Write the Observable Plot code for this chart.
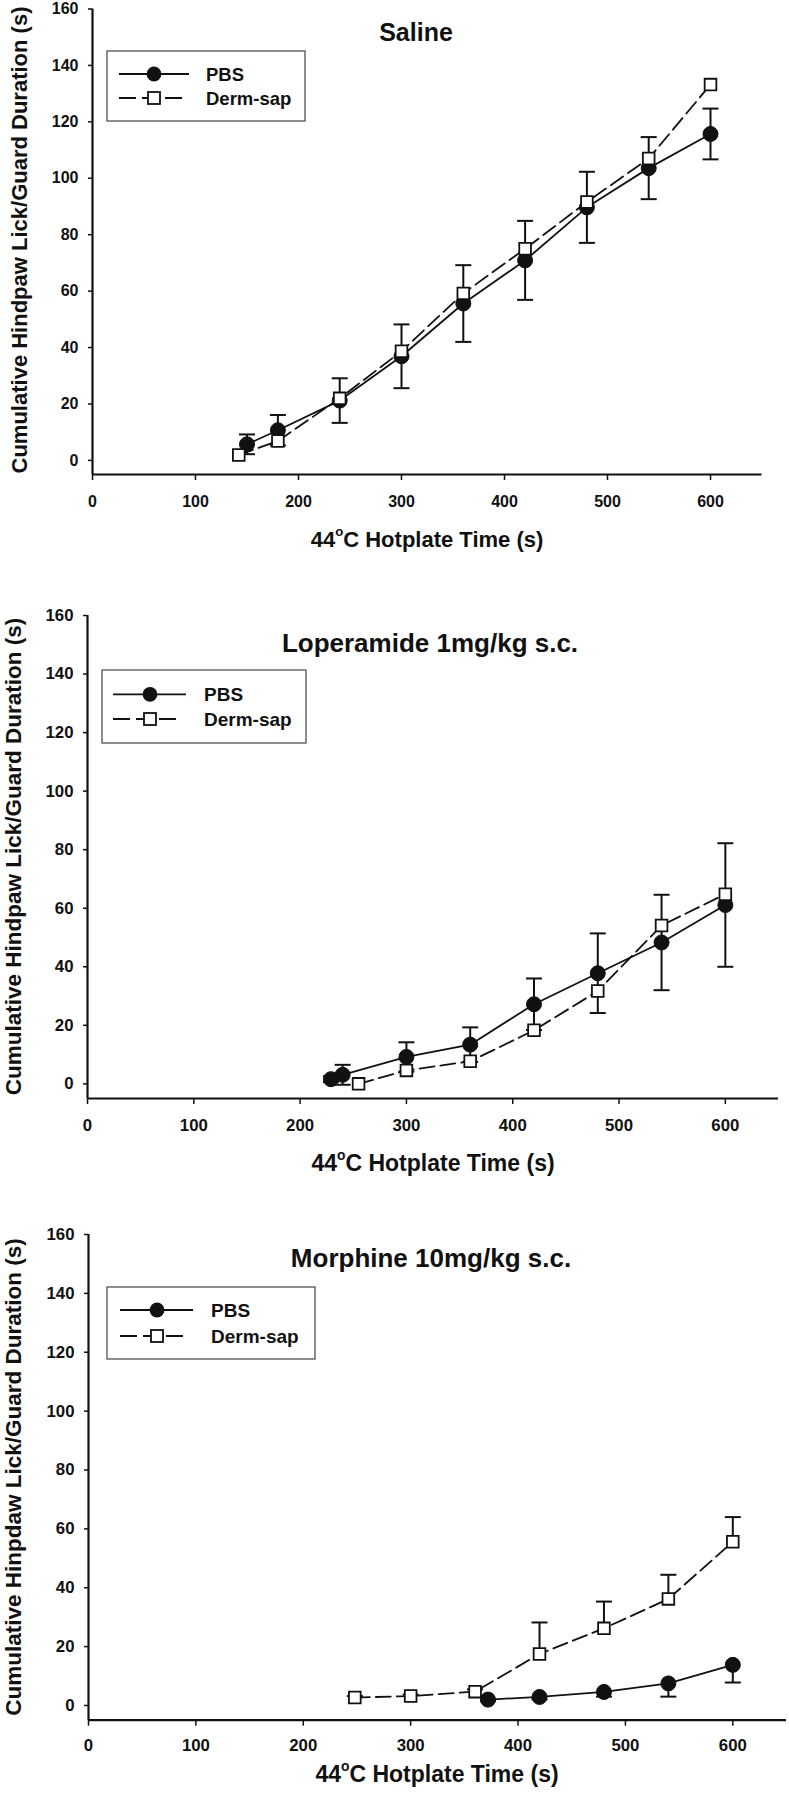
<!DOCTYPE html>
<html><head><meta charset="utf-8">
<script src="https://cdn.jsdelivr.net/npm/d3@7"></script>
<script src="https://cdn.jsdelivr.net/npm/@observablehq/plot@0.6"></script>
<style>
body{margin:0;background:#fff;}
#wrap{position:relative;width:789px;height:1800px;background:#fff;overflow:hidden;}
.panel{position:absolute;left:0;}
</style></head><body><div id="wrap"></div>
<script>
// ---- shared axis ticks & labels ----
const xTicks = [0, 100, 200, 300, 400, 500, 600];
const yTicks = [0, 20, 40, 60, 80, 100, 120, 140, 160];
const seriesNames = ["PBS", "Derm-sap"];
const xLabelMain = "44";
const xLabelSup = "o";
const xLabelRest = "C Hotplate Time (s)";

// ---- Saline ----
const salineTitle = "Saline";
const salineYLabel = "Cumulative Hindpaw Lick/Guard Duration (s)";
const salinePbsTime = [150, 180, 240, 300, 360, 420, 480, 540, 600];
const salinePbsMean = [5.7, 10.7, 21.2, 36.9, 55.6, 70.9, 89.7, 103.6, 115.7];
const salinePbsErr  = [3.5, 5.4, 7.9, 11.3, 13.6, 14.0, 12.6, 11.0, 9.0];
const salineDermTime = [142, 180, 240, 300, 360, 420, 480, 540, 600];
const salineDermMean = [1.9, 6.9, 22.0, 38.7, 59.2, 75.0, 91.6, 107.0, 133.2];

// ---- Loperamide ----
const loperTitle = "Loperamide 1mg/kg s.c.";
const loperYLabel = "Cumulative Hindpaw Lick/Guard Duration (s)";
const loperPbsTime = [229, 240, 300, 360, 420, 480, 540, 600];
const loperPbsMean = [1.6, 3.1, 9.2, 13.4, 27.2, 37.8, 48.3, 61.1];
const loperPbsErr  = [1.0, 3.4, 5.0, 5.9, 8.8, 13.6, 16.3, 21.1];
const loperDermTime = [255, 300, 360, 420, 480, 540, 600];
const loperDermMean = [0.0, 4.6, 7.7, 18.3, 31.7, 54.1, 64.8];

// ---- Morphine ----
const morphTitle = "Morphine 10mg/kg s.c.";
const morphYLabel = "Cumulative Hinpdaw Lick/Guard Duration (s)";
const morphPbsTime = [372, 420, 480, 540, 600];
const morphPbsMean = [2.0, 2.9, 4.6, 7.5, 13.8];
const morphPbsErr  = [0.5, 0.8, 1.6, 4.5, 6.0];
const morphDermTime = [248, 300, 360, 420, 480, 540, 600];
const morphDermMean = [2.7, 3.2, 4.7, 17.5, 26.2, 36.2, 55.6];
const morphDermErr  = [0.5, 0.5, 0.8, 10.7, 9.1, 8.2, 8.4];

const FONT = "'Liberation Sans', Arial, Helvetica, sans-serif";
const INK = "#111";

const panels = [
  {top: 0, height: 560, mL: 92, mR: 27.5, mT: 8.5, mB: 86, xPad: 15, tick: 16,
   title: salineTitle, titleX: 416, titleY: 41, titleSize: 25,
   xlX: 427, xlY: 547, xlSize: 22, ylX: 27, ylY: 240, ylSize: 22, yLabel: salineYLabel,
   pbsTime: salinePbsTime, pbsMean: salinePbsMean, pbsErr: salinePbsErr, pbsDir: "both",
   dermTime: salineDermTime, dermMean: salineDermMean, dermErr: null, dermDir: "up",
   leg: {x0: 107, y0: 51, x1: 305, y1: 121, r1: 74, r2: 98, l0: 119, l1: 189, mx: 154, tx: 206, fs: 18.5}},
  {top: 600, height: 580, mL: 87, mR: 11, mT: 15, mB: 82, xPad: 15, tick: 16.8,
   title: loperTitle, titleX: 430, titleY: 52, titleSize: 26,
   xlX: 433, xlY: 571, xlSize: 23, ylX: 21, ylY: 256.5, ylSize: 22.5, yLabel: loperYLabel,
   pbsTime: loperPbsTime, pbsMean: loperPbsMean, pbsErr: loperPbsErr, pbsDir: "both",
   dermTime: loperDermTime, dermMean: loperDermMean, dermErr: null, dermDir: "up",
   leg: {x0: 102, y0: 70, x1: 306, y1: 143, r1: 94.3, r2: 119, l0: 113, l1: 186, mx: 150, tx: 204, fs: 19}},
  {top: 1220, height: 580, mL: 88, mR: 3, mT: 14, mB: 80.3, xPad: 13, tick: 16.8,
   title: morphTitle, titleX: 431, titleY: 47, titleSize: 26,
   xlX: 437, xlY: 562, xlSize: 23, ylX: 21, ylY: 257, ylSize: 22.5, yLabel: morphYLabel,
   pbsTime: morphPbsTime, pbsMean: morphPbsMean, pbsErr: morphPbsErr, pbsDir: "down",
   dermTime: morphDermTime, dermMean: morphDermMean, dermErr: morphDermErr, dermDir: "up",
   leg: {x0: 107, y0: 67, x1: 315, y1: 139, r1: 90, r2: 116, l0: 120, l1: 193, mx: 157, tx: 211, fs: 19}}
];

const capSymbol = {draw(ctx) { ctx.moveTo(-8, 0); ctx.lineTo(8, 0); }};

function errRows(time, mean, err, dir) {
  if (!err) return {bars: [], caps: []};
  const bars = [], caps = [];
  time.forEach((t, i) => {
    const v = mean[i], e = err[i];
    const lo = dir === "up" ? v : v - e;
    const hi = dir === "down" ? v : v + e;
    bars.push({t, lo, hi});
    if (dir !== "down") caps.push({t, c: v + e});
    if (dir !== "up") caps.push({t, c: v - e});
  });
  return {bars, caps};
}

const wrap = document.getElementById("wrap");

panels.forEach(p => {
  const pbs = p.pbsTime.map((t, i) => ({t, v: p.pbsMean[i], s: seriesNames[0]}));
  const derm = p.dermTime.map((t, i) => ({t, v: p.dermMean[i], s: seriesNames[1]}));
  const pe = errRows(p.pbsTime, p.pbsMean, p.pbsErr, p.pbsDir);
  const de = errRows(p.dermTime, p.dermMean, p.dermErr, p.dermDir);

  const chart = Plot.plot({
    width: 789, height: p.height,
    marginLeft: p.mL, marginRight: p.mR, marginTop: p.mT, marginBottom: p.mB,
    style: {fontFamily: FONT, fontWeight: "bold", fontSize: p.tick + "px", color: INK, background: "transparent", overflow: "visible"},
    x: {domain: [0, 650]},
    y: {domain: [-5, 160]},
    marks: [
      Plot.axisX({ticks: xTicks, tickSize: 6, tickPadding: p.xPad, strokeWidth: 1.5, label: null, tickFormat: d => String(d), fontSize: p.tick, fontWeight: "bold"}),
      Plot.axisY({ticks: yTicks, tickSize: 4, tickPadding: 10, strokeWidth: 1.5, label: null, tickFormat: d => String(d), fontSize: p.tick, fontWeight: "bold"}),
      Plot.ruleY([-5], {stroke: INK, strokeWidth: 2.2}),
      Plot.ruleX([0], {stroke: INK, strokeWidth: 2.2}),
      Plot.ruleX(pe.bars, {x: "t", y1: "lo", y2: "hi", stroke: INK, strokeWidth: 2}),
      Plot.dot(pe.caps, {x: "t", y: "c", symbol: capSymbol, fill: "none", stroke: INK, strokeWidth: 2}),
      Plot.ruleX(de.bars, {x: "t", y1: "lo", y2: "hi", stroke: INK, strokeWidth: 2}),
      Plot.dot(de.caps, {x: "t", y: "c", symbol: capSymbol, fill: "none", stroke: INK, strokeWidth: 2}),
      Plot.line(pbs, {x: "t", y: "v", stroke: INK, strokeWidth: 1.8}),
      Plot.line(derm, {x: "t", y: "v", stroke: INK, strokeWidth: 1.8, strokeDasharray: "15,6"}),
      Plot.dot(pbs, {x: "t", y: "v", r: 7.5, fill: INK, stroke: INK, strokeWidth: 1}),
      Plot.dot(derm, {x: "t", y: "v", r: 6.6, symbol: "square", fill: "white", stroke: INK, strokeWidth: 1.8})
    ]
  });
  chart.classList.add("panel");
  chart.style.top = p.top + "px";
  wrap.appendChild(chart);

  const svg = d3.select(chart);
  // title
  svg.append("text").attr("x", p.titleX).attr("y", p.titleY)
    .attr("text-anchor", "middle").attr("fill", INK)
    .style("font", `bold ${p.titleSize}px ${FONT}`).text(p.title);
  // x label with superscript
  const xl = svg.append("text").attr("x", p.xlX).attr("y", p.xlY)
    .attr("text-anchor", "middle").attr("fill", INK)
    .style("font", `bold ${p.xlSize}px ${FONT}`);
  xl.append("tspan").text(xLabelMain);
  xl.append("tspan").attr("dy", "-0.8em").style("font-size", "0.6em").text(xLabelSup);
  xl.append("tspan").attr("dy", "0.48em").text(xLabelRest);
  // y label
  svg.append("text").attr("transform", `translate(${p.ylX},${p.ylY}) rotate(-90)`)
    .attr("text-anchor", "middle").attr("fill", INK)
    .style("font", `bold ${p.ylSize}px ${FONT}`).text(p.yLabel);
  // legend
  const L = p.leg;
  const g = svg.append("g").attr("text-anchor", "start");
  g.append("rect").attr("x", L.x0).attr("y", L.y0).attr("width", L.x1 - L.x0).attr("height", L.y1 - L.y0)
    .attr("fill", "white").attr("stroke", "#444").attr("stroke-width", 1.2);
  g.append("line").attr("x1", L.l0).attr("x2", L.l1).attr("y1", L.r1).attr("y2", L.r1)
    .attr("stroke", INK).attr("stroke-width", 1.8);
  g.append("circle").attr("cx", L.mx).attr("cy", L.r1).attr("r", 7.4).attr("fill", INK);
  g.append("line").attr("x1", L.l0).attr("x2", L.l0 + 63).attr("y1", L.r2).attr("y2", L.r2)
    .attr("stroke", INK).attr("stroke-width", 1.8).attr("stroke-dasharray", "17,6");
  g.append("rect").attr("x", L.mx - 6).attr("y", L.r2 - 6).attr("width", 12).attr("height", 12)
    .attr("fill", "white").attr("stroke", INK).attr("stroke-width", 1.8);
  g.append("text").attr("x", L.tx).attr("y", L.r1).attr("dy", "0.36em").attr("fill", INK)
    .attr("text-anchor", "start")
    .style("font", `bold ${L.fs}px ${FONT}`).text(seriesNames[0]);
  g.append("text").attr("x", L.tx).attr("y", L.r2).attr("dy", "0.36em").attr("fill", INK)
    .attr("text-anchor", "start")
    .style("font", `bold ${L.fs}px ${FONT}`).text(seriesNames[1]);
});
</script></body></html>
